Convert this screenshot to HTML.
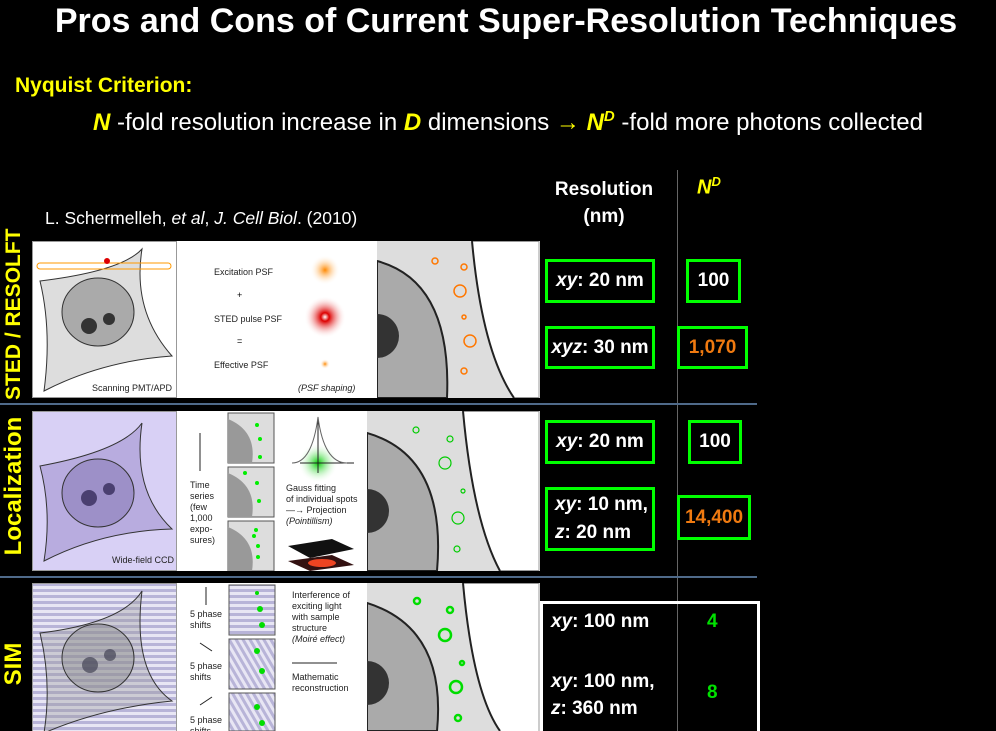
<!DOCTYPE html>
<html><head><meta charset="utf-8"><style>
body{margin:0;background:#000;}
#s{position:relative;width:996px;height:731px;overflow:hidden;background:#000;font-family:"Liberation Sans",sans-serif;color:#fff}
.a{position:absolute}
.y{color:#ffff00}
.gb{position:absolute;border:3px solid #00ff00;box-sizing:border-box;display:flex;align-items:center;justify-content:center;font-weight:bold;font-size:19px;text-align:left}
.rot{position:absolute;transform:rotate(-90deg);transform-origin:center;color:#ffff00;font-weight:bold;font-size:24px;white-space:nowrap;text-align:center}
.ill{position:absolute;background:#fff}
</style></head><body>
<div id="s">
<div class="a" style="left:0;width:1012px;top:0;text-align:center;font-size:34px;font-weight:bold;line-height:42px">Pros and Cons of Current Super-Resolution Techniques</div>
<div class="a y" style="left:15px;top:74px;font-size:21px;font-weight:bold">Nyquist Criterion:</div>
<div class="a" style="left:93px;top:108px;font-size:24px"><b class="y"><i>N</i></b> -fold resolution increase in <b class="y"><i>D</i></b> dimensions <b class="y">&#8594;</b> <b class="y"><i>N<sup style="font-size:15px">D</sup></i></b> -fold more photons collected</div>
<div class="a" style="left:545px;width:118px;top:176px;text-align:center;font-size:19px;font-weight:bold;line-height:27px">Resolution<br>(nm)</div>
<div class="a y" style="left:697px;top:174px;font-size:20px;font-weight:bold;font-style:italic">N<sup style="font-size:13px">D</sup></div>
<div class="a" style="left:45px;top:208px;font-size:17.5px">L. Schermelleh, <i>et al</i>, <i>J. Cell Biol</i>. (2010)</div>
<div class="a" style="left:677px;top:170px;width:1px;height:561px;background:#666"></div>
<div class="a" style="left:0;top:403px;width:757px;height:2px;background:#4f6a8a"></div>
<div class="a" style="left:0;top:576px;width:757px;height:2px;background:#4f6a8a"></div>

<div class="rot" style="left:-70px;top:304px;width:168px;font-size:21px">STED / RESOLFT</div>
<div class="rot" style="left:-57px;top:472px;width:142px">Localization</div>
<div class="rot" style="left:-30px;top:650px;width:88px">SIM</div>

<svg width="0" height="0" style="position:absolute"><defs>
<clipPath id="c1"><rect x="345" y="0" width="163" height="157"/></clipPath>
<clipPath id="c2"><rect x="335" y="0" width="173" height="160"/></clipPath>
</defs></svg>

<div class="ill" style="left:32px;top:241px;width:508px;height:157px">
<svg width="508" height="157">
<rect x="0.5" y="0.5" width="144" height="156" fill="#fff" stroke="#999"/>
<path d="M8,40 Q90,30 110,8 Q100,70 140,115 Q70,120 12,150 Q20,90 8,40Z" fill="#ddd" stroke="#333"/>
<ellipse cx="66" cy="71" rx="36" ry="34" fill="#aaa" stroke="#333"/>
<circle cx="57" cy="85" r="8" fill="#333"/><circle cx="77" cy="78" r="6" fill="#333"/>
<rect x="5" y="22" width="134" height="6" rx="3" fill="none" stroke="#f90"/>
<circle cx="75" cy="20" r="3" fill="#d00"/>
<text x="60" y="150" font-size="9" fill="#222">Scanning PMT/APD</text>
<text x="182" y="34" font-size="9" fill="#222">Excitation PSF</text>
<text x="205" y="57" font-size="9">+</text>
<text x="182" y="81" font-size="9" fill="#222">STED pulse PSF</text>
<text x="205" y="103" font-size="9">=</text>
<text x="182" y="127" font-size="9" fill="#222">Effective PSF</text>
<text x="266" y="150" font-size="9" font-style="italic" fill="#222">(PSF shaping)</text>
<defs><radialGradient id="og"><stop offset="0" stop-color="#f80"/><stop offset="1" stop-color="#fff" stop-opacity="0"/></radialGradient>
<radialGradient id="rg"><stop offset="0" stop-color="#fff"/><stop offset="0.2" stop-color="#d00"/><stop offset="1" stop-color="#fff" stop-opacity="0"/></radialGradient></defs>
<circle cx="293" cy="29" r="15" fill="url(#og)"/><circle cx="293" cy="76" r="21" fill="url(#rg)"/><circle cx="293" cy="123" r="5" fill="url(#og)"/>
<g clip-path="url(#c1)">
<rect x="345" y="0.5" width="162" height="156" fill="#fff" stroke="#999"/>
<path d="M345,0 L440,0 Q450,110 482,157 L345,157Z" fill="#ddd"/>
<path d="M440,0 Q450,110 482,157" fill="none" stroke="#222" stroke-width="2"/>
<path d="M345,20 Q420,40 415,157 L345,157Z" fill="#aaa" stroke="#222" stroke-width="2"/>
<circle cx="345" cy="95" r="22" fill="#333"/>
</g>
<g fill="none" stroke="#f70" stroke-width="1.5"><circle cx="403" cy="20" r="3"/><circle cx="432" cy="26" r="3"/><circle cx="428" cy="50" r="6"/><circle cx="432" cy="76" r="2"/><circle cx="438" cy="100" r="6"/><circle cx="432" cy="130" r="3"/></g>
</svg></div>

<div class="ill" style="left:32px;top:411px;width:508px;height:160px">
<svg width="508" height="160">
<rect x="0.5" y="0.5" width="144" height="159" fill="#d8d0f5" stroke="#999"/>
<path d="M8,55 Q90,40 110,12 Q100,80 140,118 Q70,120 12,150 Q20,100 8,55Z" fill="#b8acdf" stroke="#333"/>
<ellipse cx="66" cy="82" rx="36" ry="34" fill="#9d90c8" stroke="#333"/>
<circle cx="57" cy="87" r="8" fill="#4a3f70"/><circle cx="77" cy="78" r="6" fill="#4a3f70"/>
<text x="80" y="152" font-size="9" fill="#222">Wide-field CCD</text>
<line x1="168" y1="22" x2="168" y2="60" stroke="#222"/>
<text x="158" y="77" font-size="9" fill="#222"><tspan x="158">Time</tspan><tspan x="158" dy="11">series</tspan><tspan x="158" dy="11">(few</tspan><tspan x="158" dy="11">1,000</tspan><tspan x="158" dy="11">expo-</tspan><tspan x="158" dy="11">sures)</tspan></text>
<g stroke="#555" fill="#ddd"><rect x="196" y="2" width="46" height="50"/><rect x="196" y="56" width="46" height="50"/><rect x="196" y="110" width="46" height="50"/></g>
<g fill="#999"><path d="M196,8 Q225,20 220,52 L196,52Z"/><path d="M196,62 Q225,74 220,106 L196,106Z"/><path d="M196,116 Q225,128 220,160 L196,160Z"/></g>
<g fill="#0e0"><circle cx="225" cy="14" r="2"/><circle cx="228" cy="28" r="2"/><circle cx="228" cy="46" r="2"/><circle cx="213" cy="62" r="2"/><circle cx="225" cy="72" r="2"/><circle cx="227" cy="90" r="2"/><circle cx="224" cy="119" r="2"/><circle cx="222" cy="125" r="2"/><circle cx="226" cy="135" r="2"/><circle cx="226" cy="146" r="2"/></g>
<defs><radialGradient id="gg"><stop offset="0" stop-color="#0c0"/><stop offset="1" stop-color="#fff" stop-opacity="0"/></radialGradient></defs>
<circle cx="286" cy="52" r="20" fill="url(#gg)"/>
<line x1="268" y1="52" x2="322" y2="52" stroke="#222"/><line x1="286" y1="62" x2="286" y2="6" stroke="#222"/>
<path d="M260,52 Q280,52 286,6 Q292,52 315,52" fill="none" stroke="#666"/>
<text x="254" y="80" font-size="9" fill="#222"><tspan x="254">Gauss fitting</tspan><tspan x="254" dy="11">of individual spots</tspan><tspan x="254" dy="11">&#8212;&#8594; Projection</tspan><tspan x="254" dy="11" font-style="italic">(Pointillism)</tspan></text>
<path d="M256,135 L300,128 L322,138 L278,147Z" fill="#111"/><path d="M256,150 L300,144 L322,154 L278,160Z" fill="#311"/><ellipse cx="290" cy="152" rx="14" ry="4" fill="#e42"/>
<g clip-path="url(#c2)">
<rect x="335" y="0.5" width="172" height="159" fill="#fff" stroke="#999"/>
<path d="M335,0 L431,0 Q441,110 468,160 L335,160Z" fill="#ddd"/>
<path d="M431,0 Q441,110 468,160" fill="none" stroke="#222" stroke-width="2"/>
<path d="M335,22 Q415,45 405,160 L335,160Z" fill="#aaa" stroke="#222" stroke-width="2"/>
<circle cx="335" cy="100" r="22" fill="#333"/>
</g>
<g fill="none" stroke="#0c0" stroke-width="1.2"><circle cx="384" cy="19" r="3"/><circle cx="418" cy="28" r="3"/><circle cx="413" cy="52" r="6"/><circle cx="431" cy="80" r="2"/><circle cx="426" cy="107" r="6"/><circle cx="425" cy="138" r="3"/></g>
</svg></div>

<div class="ill" style="left:32px;top:583px;width:508px;height:148px">
<svg width="508" height="148">
<defs><pattern id="hs" width="6" height="6" patternUnits="userSpaceOnUse"><rect width="6" height="3" fill="#b8b4d8"/><rect y="3" width="6" height="3" fill="#e8e6f4"/></pattern>
<pattern id="ds" width="6" height="6" patternUnits="userSpaceOnUse" patternTransform="rotate(60)"><rect width="6" height="3" fill="#b8b4d8"/><rect y="3" width="6" height="3" fill="#e8e6f4"/></pattern></defs>
<rect x="0.5" y="0.5" width="144" height="148" fill="url(#hs)" stroke="#999"/>
<path d="M8,50 Q90,40 110,8 Q100,90 140,118 Q70,125 12,150 Q20,100 8,50Z" fill="#999" fill-opacity="0.35" stroke="#333"/>
<ellipse cx="66" cy="75" rx="36" ry="34" fill="#888" fill-opacity="0.4" stroke="#333"/>
<circle cx="58" cy="82" r="8" fill="#445" fill-opacity="0.7"/><circle cx="78" cy="72" r="6" fill="#445" fill-opacity="0.7"/>
<line x1="174" y1="4" x2="174" y2="22" stroke="#222"/><text x="158" y="34" font-size="9" fill="#222"><tspan x="158">5 phase</tspan><tspan x="158" dy="11">shifts</tspan></text>
<line x1="168" y1="60" x2="180" y2="68" stroke="#222"/><text x="158" y="86" font-size="9" fill="#222"><tspan x="158">5 phase</tspan><tspan x="158" dy="11">shifts</tspan></text>
<line x1="168" y1="122" x2="180" y2="114" stroke="#222"/><text x="158" y="140" font-size="9" fill="#222"><tspan x="158">5 phase</tspan><tspan x="158" dy="11">shifts</tspan></text>
<rect x="197" y="2" width="46" height="50" fill="url(#hs)" stroke="#555"/><rect x="197" y="56" width="46" height="50" fill="url(#ds)" stroke="#555"/><rect x="197" y="110" width="46" height="38" fill="url(#ds)" stroke="#555"/>
<g fill="#0d0"><circle cx="225" cy="10" r="2"/><circle cx="228" cy="26" r="3"/><circle cx="230" cy="42" r="3"/><circle cx="225" cy="68" r="3"/><circle cx="230" cy="88" r="3"/><circle cx="225" cy="124" r="3"/><circle cx="230" cy="140" r="3"/></g>
<text x="260" y="15" font-size="9" fill="#222"><tspan x="260">Interference of</tspan><tspan x="260" dy="11">exciting light</tspan><tspan x="260" dy="11">with sample</tspan><tspan x="260" dy="11">structure</tspan><tspan x="260" dy="11" font-style="italic">(Moiré effect)</tspan></text>
<line x1="260" y1="80" x2="305" y2="80" stroke="#222"/><text x="260" y="97" font-size="9" fill="#222"><tspan x="260">Mathematic</tspan><tspan x="260" dy="11">reconstruction</tspan></text>
<g clip-path="url(#c2)">
<rect x="335" y="0.5" width="172" height="148" fill="#fff" stroke="#999"/>
<path d="M335,0 L431,0 Q441,110 468,148 L335,148Z" fill="#ddd"/>
<path d="M431,0 Q441,110 468,148" fill="none" stroke="#222" stroke-width="2"/>
<path d="M335,20 Q415,45 405,148 L335,148Z" fill="#aaa" stroke="#222" stroke-width="2"/>
<circle cx="335" cy="100" r="22" fill="#333"/>
</g>
<g fill="none" stroke="#0d0" stroke-width="2.5"><circle cx="385" cy="18" r="3"/><circle cx="418" cy="27" r="3"/><circle cx="413" cy="52" r="6"/><circle cx="430" cy="80" r="2"/><circle cx="424" cy="104" r="6"/><circle cx="426" cy="135" r="3"/></g>
</svg></div>

<div class="gb" style="left:545px;top:259px;width:110px;height:44px"><span><i>xy</i>: 20 nm</span></div>
<div class="gb" style="left:686px;top:259px;width:55px;height:44px">100</div>
<div class="gb" style="left:545px;top:326px;width:110px;height:43px"><span><i>xyz</i>: 30 nm</span></div>
<div class="gb" style="left:677px;top:326px;width:71px;height:43px;color:#f07a10">1,070</div>
<div class="gb" style="left:545px;top:420px;width:110px;height:44px"><span><i>xy</i>: 20 nm</span></div>
<div class="gb" style="left:688px;top:420px;width:54px;height:44px">100</div>
<div class="gb" style="left:545px;top:487px;width:110px;height:64px;justify-content:flex-start;padding-left:7px;line-height:28px"><span><i>xy</i>: 10 nm,<br><i>z</i>: 20 nm</span></div>
<div class="gb" style="left:677px;top:495px;width:74px;height:45px;color:#f07a10">14,400</div>
<div class="a" style="left:540px;top:601px;width:220px;height:140px;border:3px solid #fff;box-sizing:border-box"></div>
<div class="a" style="left:551px;top:611px;font-size:19px;font-weight:bold"><i>xy</i>: 100 nm</div>
<div class="a" style="left:707px;top:611px;font-size:19px;font-weight:bold;color:#00e000">4</div>
<div class="a" style="left:551px;top:668px;font-size:19px;font-weight:bold;line-height:27px"><i>xy</i>: 100 nm,<br><i>z</i>: 360 nm</div>
<div class="a" style="left:707px;top:682px;font-size:19px;font-weight:bold;color:#00e000">8</div>
</div>
</body></html>
